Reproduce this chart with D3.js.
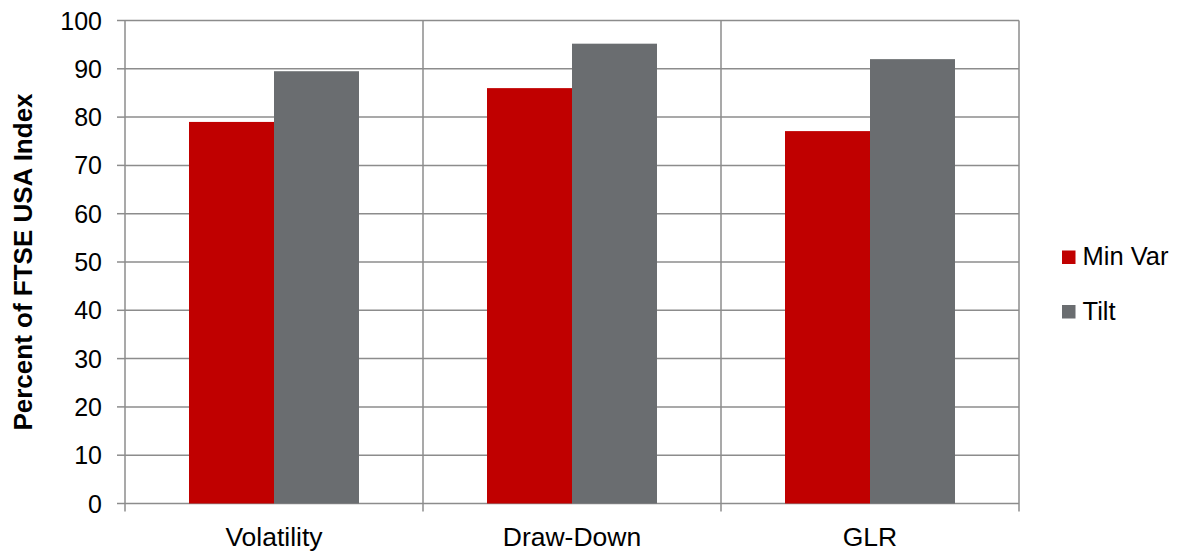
<!DOCTYPE html>
<html>
<head>
<meta charset="utf-8">
<script src="https://cdn.jsdelivr.net/npm/d3@7"></script>
<style>
  html, body { margin: 0; padding: 0; background: #fff; }
  svg { display: block; }
  text { font-family: "Liberation Sans", Arial, sans-serif; fill: #000; }
</style>
</head>
<body>
<svg id="chart" width="1178" height="551"></svg>
<script>
// Chart data
const categories = ["Volatility", "Draw-Down", "GLR"];
const seriesNames = ["Min Var", "Tilt"];
const minVar = [79.0, 86.0, 77.1];
const tilt = [89.5, 95.2, 92.0];
const yTicks = [0, 10, 20, 30, 40, 50, 60, 70, 80, 90, 100];
const yTitle = "Percent of FTSE USA Index";

const colors = ["#C00000", "#6A6D70"];
const gridColor = "#8C8C8C";

const svg = d3.select("#chart");
const margin = { left: 125, right: 159, top: 20.5, bottom: 47.5 };
const W = 1178, H = 551;
const plotW = W - margin.left - margin.right;
const plotH = H - margin.top - margin.bottom;

const x0 = d3.scaleBand().domain(categories).range([0, plotW]).paddingInner(0).paddingOuter(0);
const bandPad = 64 / 298;
const x1 = d3.scaleBand().domain(seriesNames).range([x0.bandwidth() * bandPad, x0.bandwidth() * (1 - bandPad)]);
const y = d3.scaleLinear().domain([0, 100]).range([plotH, 0]);

const g = svg.append("g").attr("transform", `translate(${margin.left},${margin.top})`);

// Horizontal gridlines
g.append("g")
  .selectAll("line")
  .data(yTicks)
  .join("line")
  .attr("x1", 0).attr("x2", plotW)
  .attr("y1", d => y(d)).attr("y2", d => y(d))
  .attr("stroke", gridColor).attr("stroke-width", 1.5);

// Vertical separators between categories and the frame sides
const bounds = categories.map(c => x0(c)).concat([plotW]);
g.append("g")
  .selectAll("line")
  .data(bounds)
  .join("line")
  .attr("x1", d => d).attr("x2", d => d)
  .attr("y1", 0).attr("y2", plotH + 8)
  .attr("stroke", gridColor).attr("stroke-width", 1.5);

// Y tick marks
g.append("g")
  .selectAll("line")
  .data(yTicks)
  .join("line")
  .attr("x1", -8).attr("x2", 0)
  .attr("y1", d => y(d)).attr("y2", d => y(d))
  .attr("stroke", gridColor).attr("stroke-width", 1.5);

// Bars
const rows = categories.map((c, i) => ({ cat: c, values: [minVar[i], tilt[i]] }));
const groups = g.append("g")
  .selectAll("g")
  .data(rows)
  .join("g")
  .attr("transform", d => `translate(${x0(d.cat)},0)`);

groups.selectAll("rect")
  .data(d => d.values.map((v, k) => ({ name: seriesNames[k], v, k })))
  .join("rect")
  .attr("x", d => x1(d.name))
  .attr("width", x1.bandwidth())
  .attr("y", d => y(d.v))
  .attr("height", d => y(0) - y(d.v))
  .attr("fill", d => colors[d.k]);

// Y tick labels
g.append("g")
  .selectAll("text")
  .data(yTicks)
  .join("text")
  .attr("x", -23)
  .attr("y", d => y(d))
  .attr("dy", "0.36em")
  .attr("text-anchor", "end")
  .style("font-size", "25px")
  .text(d => d);

// X labels
g.append("g")
  .selectAll("text")
  .data(categories)
  .join("text")
  .attr("x", d => x0(d) + x0.bandwidth() / 2)
  .attr("y", plotH + 42.5)
  .attr("text-anchor", "middle")
  .style("font-size", "26.5px")
  .text(d => d);

// Y axis title
svg.append("text")
  .attr("transform", `translate(32,${margin.top + plotH / 2}) rotate(-90)`)
  .attr("text-anchor", "middle")
  .style("font-size", "26px")
  .style("font-weight", "bold")
  .text(yTitle);

// Legend
const legend = svg.append("g").attr("transform", "translate(1062,250.5)");
const items = legend.selectAll("g")
  .data(seriesNames)
  .join("g")
  .attr("transform", (d, i) => `translate(0,${i * 54.5})`);
items.append("rect")
  .attr("width", 13.5).attr("height", 13.5)
  .attr("fill", (d, i) => colors[i]);
items.append("text")
  .attr("x", 20.5)
  .attr("y", 14.5)
  .style("font-size", "25.5px")
  .text(d => d);
</script>
</body>
</html>
